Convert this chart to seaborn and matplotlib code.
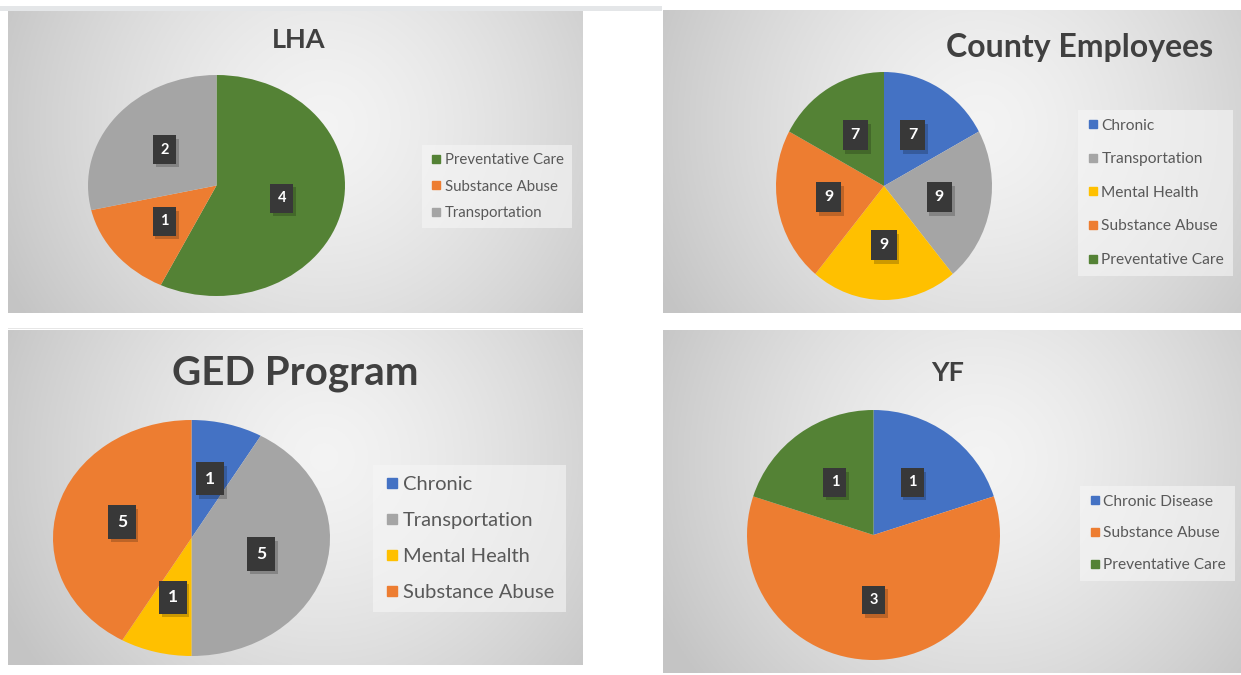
import numpy as np
import matplotlib
matplotlib.use("Agg")
import matplotlib.pyplot as plt
from matplotlib.lines import Line2D
from matplotlib.patches import Rectangle
import matplotlib.patheffects as pe
import seaborn as sns

# ---- survey counts per group ----
lha_labels = ["Preventative Care", "Substance Abuse", "Transportation"]
lha_values = [4, 1, 2]

county_labels = ["Chronic", "Transportation", "Mental Health", "Substance Abuse", "Preventative Care"]
county_values = [7, 9, 9, 9, 7]

ged_labels = ["Chronic", "Transportation", "Mental Health", "Substance Abuse"]
ged_values = [1, 5, 1, 5]

yf_labels = ["Chronic Disease", "Substance Abuse", "Preventative Care"]
yf_values = [1, 3, 1]

sns.set_theme(style="white")
plt.rcParams["font.family"] = ["Lato", "DejaVu Sans"]

palette = sns.color_palette(["#4472C4", "#A5A5A5", "#FFC000", "#ED7D31", "#548235"])
topic_color = {
    "Chronic": palette[0],
    "Chronic Disease": palette[0],
    "Transportation": palette[1],
    "Mental Health": palette[2],
    "Substance Abuse": palette[3],
    "Preventative Care": palette[4],
}

W, H = 1241, 675
fig = plt.figure(figsize=(W / 100, H / 100), dpi=100)
fig.patch.set_facecolor("white")


def rect(x0, y0, x1, y1):
    """Pixel box (top-left origin) -> figure fraction rect."""
    return [x0 / W, 1 - y1 / H, (x1 - x0) / W, (y1 - y0) / H]


# thin light strips across the top and under the first row
fig.patches.append(Rectangle((0, 1 - 11 / H), 662 / W, 5 / H, transform=fig.transFigure,
                             facecolor="#e4e6e8", edgecolor="none", zorder=0))
fig.patches.append(Rectangle((8 / W, 1 - 329 / H), 575 / W, 1 / H, transform=fig.transFigure,
                             facecolor="#e6e6e6", edgecolor="none", zorder=0))


def panel_background(box, cx=0.55, cy=0.62):
    ax = fig.add_axes(rect(*box), zorder=0)
    w = box[2] - box[0]
    h = box[3] - box[1]
    xs = np.linspace(0, 1, 300)
    ys = np.linspace(0, 1, 200)
    X, Y = np.meshgrid(xs, ys)
    d = np.sqrt(((X - cx) * w / max(w, h)) ** 2 + ((Y - cy) * h / max(w, h)) ** 2)
    d = np.clip(d / 0.62, 0, 1)
    val = 0.955 - (0.955 - 0.77) * d ** 1.4
    img = np.dstack([val, val, val])
    ax.imshow(img, extent=[0, 1, 0, 1], origin="lower", aspect="auto")
    ax.set_axis_off()
    return ax


def pie_panel(box, labels, values, title, title_xy, title_size,
              legend_xy, legend_size, legend_spacing, label_size, box_pad):
    ax = fig.add_axes(rect(*box), zorder=2)
    colors = [topic_color[l] for l in labels]
    wedges, _ = ax.pie(values, colors=colors, startangle=90, counterclock=False,
                       radius=1, wedgeprops=dict(linewidth=0))
    ax.set_xlim(-1, 1)
    ax.set_ylim(-1, 1)
    ax.set_aspect("auto")
    ax.set_axis_off()
    for wdg, v in zip(wedges, values):
        mid = np.deg2rad((wdg.theta1 + wdg.theta2) / 2)
        px, py = 0.52 * np.cos(mid), 0.52 * np.sin(mid)
        t = ax.text(px, py, str(v), ha="center", va="center", fontsize=label_size,
                    fontweight="bold", color="white",
                    bbox=dict(boxstyle=f"square,pad={box_pad}", facecolor="#383838",
                              edgecolor="none"), zorder=4)
        t.get_bbox_patch().set_path_effects(
            [pe.SimplePatchShadow(offset=(2, -2.5), shadow_rgbFace="black", alpha=0.2),
             pe.Normal()])

    fig.text(title_xy[0] / W, 1 - title_xy[1] / H, title, ha="center", va="center",
             fontsize=title_size, fontweight="bold", color="#404040", zorder=5)

    handles = [Line2D([], [], marker="s", linestyle="", color=topic_color[l],
                      markersize=legend_size * 0.52) for l in labels]
    leg = fig.legend(handles, labels, loc="upper left",
                     bbox_to_anchor=(legend_xy[0] / W, 1 - legend_xy[1] / H),
                     frameon=True, fontsize=legend_size, labelspacing=legend_spacing,
                     handletextpad=0.15, handlelength=0.8, borderpad=0.55,
                     borderaxespad=0)
    frame = leg.get_frame()
    frame.set_facecolor("#f6f6f6")
    frame.set_alpha(0.6)
    frame.set_edgecolor("none")
    frame.set_boxstyle("square", pad=0)
    for t in leg.get_texts():
        t.set_color("#595959")
    leg.set_zorder(5)


# LHA
panel_background((8, 10, 583, 313))
pie_panel((88, 75, 345, 296), lha_labels, lha_values, "LHA", (299, 40), 19.5,
          (422, 145), 10.8, 0.82, 10.5, 0.5)

# County Employees
panel_background((663, 10, 1241, 313))
pie_panel((776, 72, 992, 300), county_labels, county_values, "County Employees",
          (1080, 47), 23, (1078, 110), 11.2, 1.26, 11.5, 0.5)

# GED Program
panel_background((8, 330, 583, 665))
pie_panel((53, 420, 330, 656), ged_labels, ged_values, "GED Program", (295, 373), 29,
          (373, 465), 14.5, 0.93, 12.5, 0.5)

# YF
panel_background((663, 330, 1241, 673))
pie_panel((747, 410, 1000, 660), yf_labels, yf_values, "YF", (948, 373), 19.5,
          (1080, 486), 11.2, 1.15, 10.5, 0.5)

fig.savefig("out.png", dpi=100, facecolor="white")
